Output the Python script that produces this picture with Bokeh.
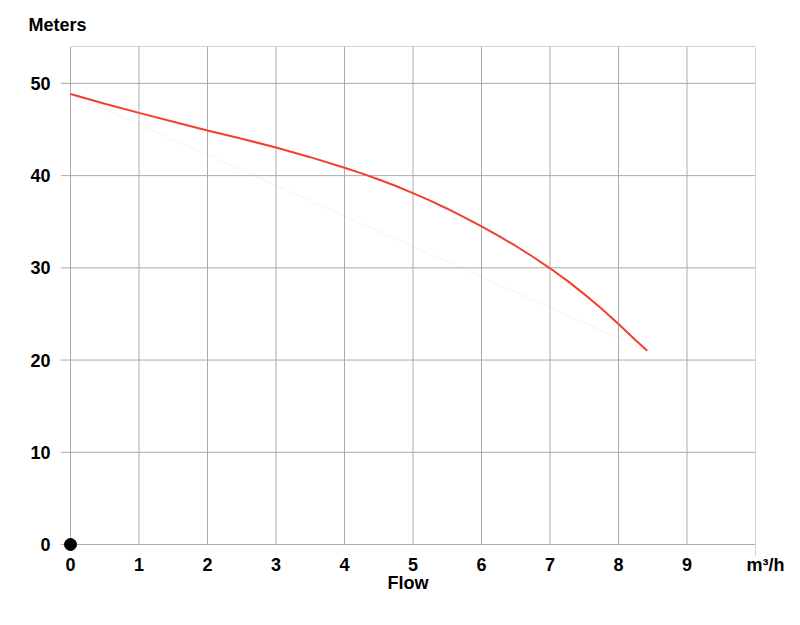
from bokeh.plotting import figure
from bokeh.models import Range1d, FixedTicker
from bokeh.embed import file_html
from bokeh.resources import INLINE

# Data
flow = [0, 0.5, 1, 1.5, 2, 2.5, 3, 3.5, 4, 4.25, 4.5, 4.75, 5, 5.25, 5.5, 5.75, 6,
        6.25, 6.5, 6.75, 7, 7.25, 7.5, 7.75, 8, 8.25, 8.42]
head = [48.85, 47.8, 46.8, 45.85, 44.9, 44.0, 43.05, 42.0, 40.85, 40.24, 39.58, 38.87, 38.1,
        37.28, 36.41, 35.48, 34.5, 33.47, 32.37, 31.2, 29.95, 28.61, 27.15, 25.58, 23.9, 22.15, 21.0]
chord_flow = [0, 8.42]
chord_head = [48.85, 21.0]
x_ticks = [0, 1, 2, 3, 4, 5, 6, 7, 8, 9, 10]
x_tick_labels = {10: "\u2007\u2007m³/h"}
y_ticks = [0, 10, 20, 30, 40, 50]
x_max = 10
y_max = 54

FONT = "Liberation Sans"
GRID = "#ababab"

p = figure(width=792, height=617, output_backend="svg", toolbar_location=None,
           x_range=Range1d(-0.146, x_max), y_range=Range1d(-1.3, y_max),
           min_border_left=60, min_border_right=37, min_border_top=45, min_border_bottom=61,
           title="Meters")
p.outline_line_color = None
p.xgrid.visible = False
p.ygrid.visible = False

p.title.text_font = FONT
p.title.text_font_style = "bold"
p.title.text_font_size = "18px"
p.title.text_color = "black"
p.title.align = "left"
p.title.offset = -32
p.title.standoff = 24

# gridlines from tick lists
grid_x = x_ticks[:-1]
p.segment(x0=[-0.146] * len(y_ticks), y0=y_ticks, x1=[x_max] * len(y_ticks), y1=y_ticks,
          line_color=GRID, line_width=1)
p.segment(x0=grid_x, y0=[0] * len(grid_x), x1=grid_x, y1=[y_max] * len(grid_x),
          line_color=GRID, line_width=1)
p.segment(x0=[0], y0=[y_max], x1=[x_max], y1=[y_max], line_color=GRID, line_width=1)
p.segment(x0=[x_max], y0=[-1.3], x1=[x_max], y1=[y_max], line_color=GRID, line_width=1)

p.line(chord_flow, chord_head, line_color="#ff0000", line_alpha=0.07, line_width=1)
p.line(flow, head, line_color="#f2402f", line_width=2)
p.scatter([0], [0], size=12, color="black")

for ax in (p.xaxis, p.yaxis):
    ax.axis_line_color = None
    ax.major_tick_line_color = None
    ax.minor_tick_line_color = None
    ax.major_tick_out = 0
    ax.major_tick_in = 0
    ax.minor_tick_out = 0
    ax.major_label_text_font = FONT
    ax.major_label_text_font_style = "bold"
    ax.major_label_text_font_size = "18px"
    ax.major_label_text_color = "black"
p.xaxis.ticker = FixedTicker(ticks=x_ticks)
p.xaxis.major_label_overrides = x_tick_labels
p.yaxis.ticker = FixedTicker(ticks=y_ticks)
p.xaxis.major_label_standoff = -2
p.yaxis.major_label_standoff = 10
p.xaxis.axis_label = "Flow"
p.xaxis.axis_label_text_font = FONT
p.xaxis.axis_label_text_font_style = "bold"
p.xaxis.axis_label_text_font_size = "18px"
p.xaxis.axis_label_text_color = "black"
p.xaxis.axis_label_standoff = -5

open("out.html", "w").write(file_html(p, INLINE))
